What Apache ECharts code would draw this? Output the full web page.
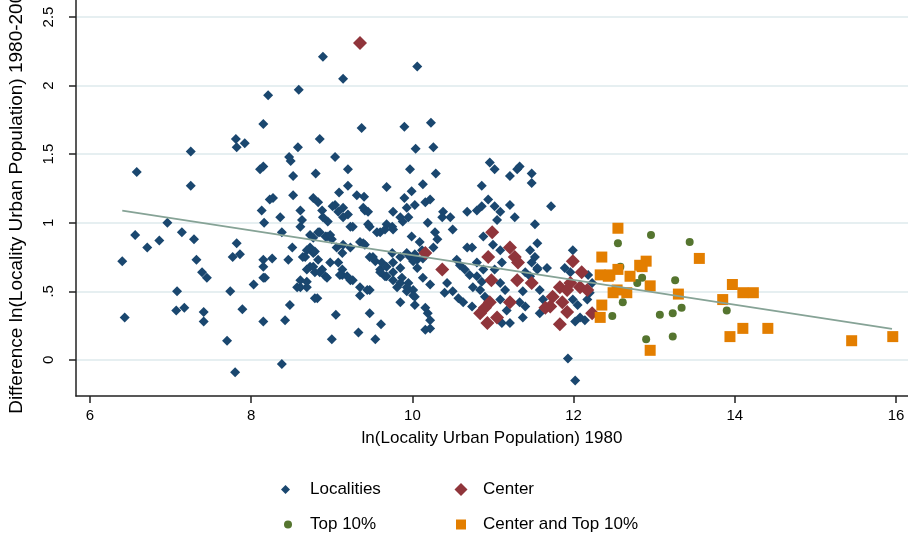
<!DOCTYPE html>
<html>
<head>
<meta charset="utf-8">
<script src="https://cdn.jsdelivr.net/npm/echarts@6/dist/echarts.min.js"></script>
<style>
	html, body { margin: 0; padding: 0; background: #fff; }
	#chart { width: 908px; height: 538px; }
</style>
</head>
<body>
<div id="chart"></div>
<script>
// tick labels
const xTicks = [6, 8, 10, 12, 14, 16]
const yTicks = [0, 0.5, 1, 1.5, 2, 2.5]

// [ln pop 1980, difference 1980-2000]
const localities = [
	[6.40, 0.72], [6.43, 0.31], [6.58, 1.37], [6.56, 0.91], [6.71, 0.82], [6.86, 0.87], [6.96, 1.00], [7.14, 0.93],
	[7.29, 0.88], [7.25, 1.52], [7.25, 1.27], [7.32, 0.73], [7.39, 0.64], [7.45, 0.60], [7.08, 0.50], [7.07, 0.36],
	[7.17, 0.38], [7.41, 0.35], [7.41, 0.28], [7.81, 1.61], [7.92, 1.58], [7.82, 1.55], [8.15, 1.72], [8.21, 1.93],
	[8.15, 1.41], [8.11, 1.39], [8.13, 1.09], [8.16, 1.00], [7.82, 0.85], [7.77, 0.75], [7.86, 0.77], [8.15, 0.73],
	[8.15, 0.68], [8.15, 0.60], [8.03, 0.55], [7.74, 0.50], [7.89, 0.37], [8.15, 0.28], [7.70, 0.14], [7.80, -0.09],
	[8.23, 1.17], [8.38, -0.03],
	[8.89, 2.21], [9.14, 2.05], [10.06, 2.14], [8.59, 1.97], [9.37, 1.69], [9.90, 1.70], [10.04, 1.54], [8.85, 1.61],
	[8.58, 1.55], [8.47, 1.48], [8.49, 1.45], [9.04, 1.48], [8.52, 1.34], [8.80, 1.36], [9.20, 1.39], [9.97, 1.39],
	[9.20, 1.27], [9.68, 1.26], [9.09, 1.22], [9.31, 1.20], [9.40, 1.19], [9.99, 1.23], [9.90, 1.18], [8.27, 1.18],
	[8.52, 1.20], [8.77, 1.18], [8.83, 1.15], [8.88, 1.09], [9.04, 1.13], [9.14, 1.11], [9.20, 1.06], [9.41, 1.09],
	[9.76, 1.08], [9.93, 1.11], [10.03, 1.13], [8.36, 1.04], [8.61, 1.09], [8.63, 1.02], [8.89, 1.04], [8.95, 1.01],
	[9.23, 0.97], [9.45, 0.99], [9.68, 0.99], [9.76, 0.95], [9.60, 0.93], [9.88, 1.01], [9.95, 1.04], [8.38, 0.93],
	[8.61, 0.97], [8.73, 0.91], [8.83, 0.93], [8.94, 0.90], [9.00, 0.88], [8.51, 0.82], [8.69, 0.80], [8.77, 0.78],
	[8.83, 0.73], [9.06, 0.82], [9.13, 0.78], [9.39, 0.85], [9.47, 0.75], [9.75, 0.78], [9.85, 0.75], [9.93, 0.78],
	[10.03, 0.77], [8.26, 0.74], [8.46, 0.73], [8.67, 0.75], [8.73, 0.68], [8.79, 0.64], [8.88, 0.66], [8.98, 0.71],
	[9.08, 0.71], [9.13, 0.66], [9.54, 0.72], [9.60, 0.66], [9.66, 0.61], [9.76, 0.64], [9.87, 0.60], [9.95, 0.56],
	[8.17, 0.60], [8.61, 0.58], [8.57, 0.53], [8.69, 0.53], [8.94, 0.60], [9.13, 0.62], [9.23, 0.58], [9.35, 0.53],
	[9.47, 0.51], [9.81, 0.53], [9.93, 0.50], [10.01, 0.51], [8.82, 0.45], [8.48, 0.40], [10.03, 0.40], [8.42, 0.29],
	[9.05, 0.33], [9.47, 0.34], [9.61, 0.26], [9.33, 0.20], [9.00, 0.15], [9.54, 0.15],
	[9.01, 1.12], [9.08, 1.08], [9.14, 1.04], [9.39, 1.11], [9.45, 1.08], [9.85, 1.04], [9.26, 0.97], [9.47, 0.97],
	[9.56, 0.93], [9.66, 0.95], [9.75, 0.97], [8.85, 0.93], [8.92, 0.90], [8.98, 0.91], [8.77, 0.89], [8.73, 0.82],
	[8.79, 0.79], [8.64, 0.75], [9.14, 0.84], [9.23, 0.82], [9.35, 0.86], [9.41, 0.84], [9.51, 0.75], [9.62, 0.71],
	[9.68, 0.68], [9.76, 0.71], [9.85, 0.67], [9.97, 0.75], [10.06, 0.73], [10.13, 0.74], [8.69, 0.66], [8.77, 0.68],
	[8.85, 0.64], [8.92, 0.61], [9.10, 0.62], [9.19, 0.61], [9.26, 0.58], [9.60, 0.64], [9.68, 0.61], [9.76, 0.58],
	[9.85, 0.56], [8.61, 0.53], [8.69, 0.57], [9.44, 0.51], [9.35, 0.47], [9.93, 0.53], [10.01, 0.47], [8.79, 0.45],
	[9.85, 0.42], [10.22, 0.29],
	[10.23, 1.73], [10.26, 1.55], [10.29, 1.36], [10.13, 1.28], [10.96, 1.44], [11.02, 1.39], [10.86, 1.27],
	[10.16, 1.15], [10.22, 1.17], [10.19, 1.00], [10.28, 0.93], [10.31, 0.88], [10.26, 0.82], [10.38, 1.08], [10.47, 1.04],
	[10.37, 1.04], [10.50, 0.95], [10.68, 1.08], [10.80, 1.09], [10.86, 1.12], [10.94, 1.17], [11.21, 1.34], [11.30, 1.39],
	[11.33, 1.41], [11.48, 1.29], [11.48, 1.36], [11.02, 1.12], [11.09, 1.08], [11.21, 1.13], [11.27, 1.04], [11.05, 1.02],
	[11.52, 0.99], [10.09, 0.86], [10.12, 0.80], [10.01, 0.72], [10.06, 0.67], [10.22, 0.55], [10.13, 0.60], [10.03, 0.46],
	[10.16, 0.38], [10.19, 0.34], [10.22, 0.23], [10.16, 0.22], [10.68, 0.82], [10.74, 0.82], [10.55, 0.73], [10.59, 0.69],
	[10.65, 0.66], [10.71, 0.62], [10.80, 0.61], [10.43, 0.56], [10.40, 0.49], [10.50, 0.50], [10.57, 0.45], [10.63, 0.42],
	[10.74, 0.39], [10.75, 0.53], [10.84, 0.51], [10.90, 0.46], [11.00, 0.84], [11.09, 0.80], [11.11, 0.71], [11.02, 0.66],
	[10.80, 0.71], [10.88, 0.66], [10.86, 0.57], [11.09, 0.56], [11.15, 0.51], [11.09, 0.44], [11.17, 0.36], [11.21, 0.27],
	[11.11, 0.27], [11.33, 0.42], [11.40, 0.39], [11.37, 0.31], [11.40, 0.64], [11.46, 0.61], [11.55, 0.66], [11.52, 0.75],
	[11.46, 0.80], [11.55, 0.85], [11.37, 0.50], [10.88, 0.90], [9.99, 0.90],
	[11.72, 1.12], [11.48, 0.71], [11.55, 0.67], [11.67, 0.67], [11.99, 0.80], [11.89, 0.67], [11.96, 0.64], [11.58, 0.51],
	[11.62, 0.44], [11.58, 0.34], [11.99, 0.44], [12.05, 0.40], [12.08, 0.31], [12.14, 0.29], [12.02, 0.28], [12.17, 0.44],
	[12.20, 0.49], [12.23, 0.56], [12.18, 0.62], [11.93, 0.01], [12.02, -0.15]
]
const center = [
	[9.35, 2.31], [10.16, 0.78], [10.37, 0.66], [10.94, 0.75], [10.99, 0.93], [10.98, 0.58], [10.96, 0.42], [10.90, 0.38],
	[10.93, 0.27], [11.05, 0.31], [10.84, 0.34], [11.21, 0.42], [11.21, 0.82], [11.27, 0.75], [11.31, 0.71], [11.30, 0.58],
	[11.48, 0.56], [11.74, 0.46], [11.71, 0.39], [11.65, 0.38], [11.83, 0.53], [11.96, 0.56], [11.92, 0.51], [11.86, 0.42],
	[11.92, 0.35], [11.83, 0.26], [12.08, 0.53], [12.17, 0.51], [12.23, 0.34], [11.99, 0.72], [12.10, 0.64]
]
const top10 = [
	[12.55, 0.85], [12.61, 0.42], [12.48, 0.32], [12.96, 0.91], [13.44, 0.86], [12.85, 0.60], [12.79, 0.56], [13.26, 0.58],
	[13.90, 0.36], [13.07, 0.33], [13.23, 0.34], [13.34, 0.38], [12.90, 0.15], [13.23, 0.17], [12.58, 0.68]
]
const centerTop10 = [
	[12.55, 0.96], [12.35, 0.75], [12.33, 0.62], [12.45, 0.62], [12.55, 0.66], [12.70, 0.61], [12.54, 0.51], [12.66, 0.49],
	[12.49, 0.49], [12.35, 0.40], [12.33, 0.31], [13.56, 0.74], [12.43, 0.61], [12.85, 0.68], [12.90, 0.72], [12.82, 0.69],
	[12.95, 0.54], [13.30, 0.48], [13.97, 0.55], [14.10, 0.49], [14.23, 0.49], [13.85, 0.44], [14.10, 0.23], [14.41, 0.23],
	[13.94, 0.17], [12.95, 0.07], [15.45, 0.14], [15.96, 0.17]
]
// fitted line end points
const fitLine = [[6.40, 1.088], [15.95, 0.226]]

const font = "'Liberation Sans', Arial, sans-serif"
const axisColor = '#222'

function legendItem(name, left, top, size, pad) {
	return {
		data: [name], left: left, top: top, padding: 0,
		itemWidth: size, itemHeight: size, selectedMode: false,
		textStyle: { fontFamily: font, fontSize: 17, color: '#000', padding: [0, 0, 0, pad] }
	}
}

const chart = echarts.init(document.getElementById('chart'))
chart.setOption({
	animation: false,
	backgroundColor: '#fff',
	grid: { left: 76, right: 0, top: 0, bottom: 142, outerBoundsMode: 'none' },
	legend: [
		legendItem('Localities', 281, 481, 9, 15),
		legendItem('Center', 454.5, 481, 13, 10.5),
		legendItem('Top 10%', 284, 516, 8, 13),
		legendItem('Center and Top 10%', 456, 516, 10, 12)
	],
	xAxis: {
		type: 'value',
		min: 5.826,
		max: 16.149,
		name: 'ln(Locality Urban Population) 1980',
		nameLocation: 'middle',
		nameGap: 34,
		nameTextStyle: { fontFamily: font, fontSize: 17, color: '#000' },
		axisLine: { onZero: false, lineStyle: { color: axisColor, width: 1.5 } },
		axisTick: { customValues: xTicks, length: 7, lineStyle: { color: axisColor, width: 1.5 } },
		axisLabel: { customValues: xTicks, margin: 12, fontFamily: font, fontSize: 15, color: '#000' },
		splitLine: { show: false }
	},
	yAxis: {
		type: 'value',
		min: -0.263,
		max: 2.624,
		name: 'Difference ln(Locality Urban Population) 1980-2000',
		nameLocation: 'middle',
		nameGap: 50,
		nameRotate: 90,
		nameTextStyle: { fontFamily: font, fontSize: 19, color: '#000' },
		axisLine: { onZero: false, lineStyle: { color: axisColor, width: 1.5 } },
		axisTick: { customValues: yTicks, length: 7, lineStyle: { color: axisColor, width: 1.5 } },
		axisLabel: {
			customValues: yTicks,
			rotate: 90,
			margin: 20,
			fontFamily: font,
			fontSize: 15,
			color: '#000',
			formatter: v => (v === 0 ? '0' : String(v).replace(/^0\./, '.'))
		},
		splitLine: { show: true, lineStyle: { color: '#e6eff1', width: 2 } }
	},
	series: [
		{
			name: 'Localities', type: 'scatter', data: localities,
			symbol: 'diamond', symbolSize: 10,
			itemStyle: { color: '#1a476f', opacity: 1 }
		},
		{
			name: 'Center', type: 'scatter', data: center,
			symbol: 'diamond', symbolSize: 14,
			itemStyle: { color: '#90353b', opacity: 1 }
		},
		{
			name: 'Top 10%', type: 'scatter', data: top10,
			symbol: 'circle', symbolSize: 8,
			itemStyle: { color: '#55752f', opacity: 1 }
		},
		{
			name: 'Center and Top 10%', type: 'scatter', data: centerTop10,
			symbol: 'rect', symbolSize: 11,
			itemStyle: { color: '#e37e00', opacity: 1 }
		},
		{
			name: 'fit', type: 'line', data: fitLine,
			symbol: 'none', z: 5,
			lineStyle: { color: '#86a396', width: 1.8 }
		}
	]
})
</script>
</body>
</html>
